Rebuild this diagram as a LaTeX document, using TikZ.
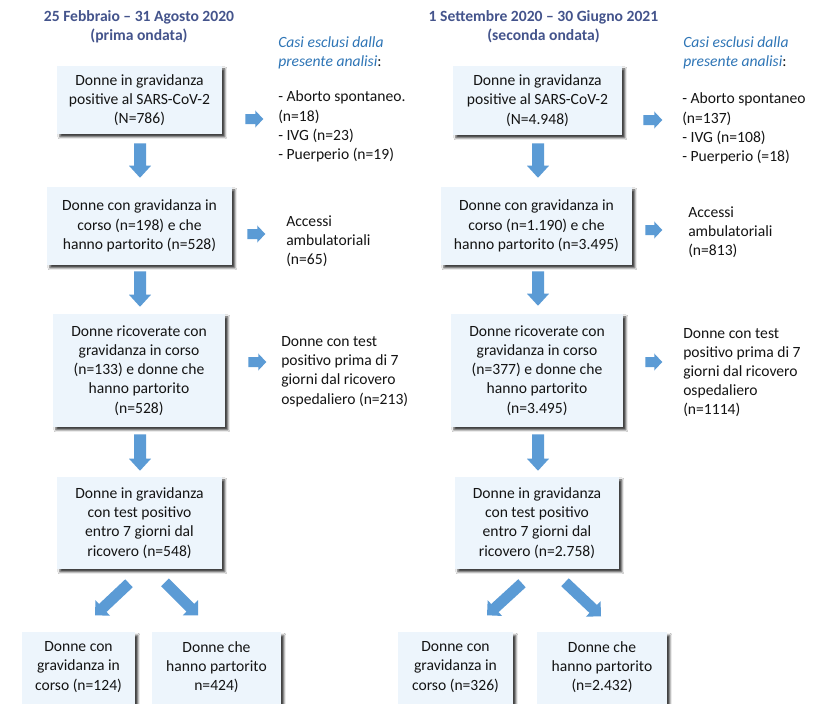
\documentclass[tikz,border=0pt]{standalone}
\usepackage{fontspec}
\setmainfont{Carlito}
\usetikzlibrary{calc,shadows.blur}
\definecolor{boxfill}{HTML}{EDF5FC}
\definecolor{arrowblue}{HTML}{5B9BD5}
\definecolor{headblue}{HTML}{44548C}
\definecolor{italblue}{HTML}{2E75B6}
\definecolor{txtcol}{HTML}{141414}
\newcommand{\bodyfont}{\fontsize{11.7}{14.4}\selectfont}
% block arrow: #1 tail, #2 tip, #3 shaft half width, #4 head half width, #5 head length
\newcommand{\blockarrow}[5]{%
  \coordinate (ba-h) at ($(#2)!#5!(#1)$);
  \fill[arrowblue] ($(#1)!#3!90:(#2)$) -- ($(ba-h)!#3!90:(#2)$) -- ($(ba-h)!#4!90:(#2)$) -- (#2)
    -- ($(ba-h)!#4!-90:(#2)$) -- ($(ba-h)!#3!-90:(#2)$) -- ($(#1)!#3!-90:(#2)$) -- cycle;}
\newcommand{\myDownArrow}[2]{\blockarrow{#1}{#2}{4.5pt}{8.25pt}{9pt}}
\newcommand{\mySideArrow}[2]{\blockarrow{#1}{#2}{3.75pt}{6.4pt}{6pt}}
\newcommand{\myDiagArrow}[2]{\blockarrow{#1}{#2}{4.1pt}{8pt}{8pt}}
\tikzset{
  box/.style={fill=boxfill, inner sep=0pt, align=center, font=\bodyfont, text=txtcol,
    blur shadow={shadow xshift=2.2pt, shadow yshift=-2.2pt, shadow blur radius=1.5pt, shadow opacity=75}},
  boxtext/.style={inner sep=0pt, align=center, font=\bodyfont, text=txtcol},
  side/.style={inner sep=0pt, align=left, anchor=west, font=\bodyfont, text=txtcol},
  head/.style={inner sep=0pt, align=center, font=\bodyfont\bfseries, text=headblue},
}
\begin{document}
\begin{tikzpicture}[x=0.75pt, y=-0.75pt]
\fill[white] (0,0) rectangle (815,704);
\useasboundingbox (0,0) rectangle (815,704);

% ---------- headers ----------
\node[head] (hL) at (139,27) {25 Febbraio -- 31 Agosto 2020\\(prima ondata)};
\node[head] (hR) at (543.5,27) {1 Settembre 2020 -- 30 Giugno 2021\\(seconda ondata)};

% ---------- left column boxes ----------
\node[box, minimum width=123.75pt, minimum height=51pt] (L1) at (139.5,100)
  {Donne in gravidanza\\positive al SARS-CoV-2\\(N=786)};
\node[box, minimum width=138.75pt, minimum height=58.5pt] (L2) at (139.5,226)
  {Donne con gravidanza in\\corso (n=198) e che\\hanno partorito (n=528)};
\node[box, minimum width=129pt, minimum height=84.75pt] (L3) at (139,370.5)
  {Donne ricoverate con\\gravidanza in corso\\(n=133) e donne che\\hanno partorito\\(n=528)};
\node[box, minimum width=123.75pt, minimum height=69pt] (L4) at (139.5,523)
  {Donne in gravidanza\\con test positivo\\entro 7 giorni dal\\ricovero (n=548)};
\node[box, minimum width=84.75pt, minimum height=60pt, anchor=north] (L5a) at (78.5,632) {};
\node[boxtext] (L5at) at (78.5,667) {Donne con\\gravidanza in\\corso (n=124)};
\node[box, minimum width=96.75pt, minimum height=60pt, anchor=north] (L5b) at (216.5,632) {};
\node[boxtext] (L5bt) at (216.5,667) {Donne che\\hanno partorito\\n=424)};

% ---------- right column boxes ----------
\node[box, minimum width=126.75pt, minimum height=51.75pt] (R1) at (537.5,100.5)
  {Donne in gravidanza\\positive al SARS-CoV-2\\(N=4.948)};
\node[box, minimum width=143.25pt, minimum height=58.5pt] (R2) at (536.5,226)
  {Donne con gravidanza in\\corso (n=1.190) e che\\hanno partorito (n=3.495)};
\node[box, minimum width=129pt, minimum height=84.75pt] (R3) at (537,370.5)
  {Donne ricoverate con\\gravidanza in corso\\(n=377) e donne che\\hanno partorito\\(n=3.495)};
\node[box, minimum width=123pt, minimum height=69pt] (R4) at (537,523)
  {Donne in gravidanza\\con test positivo\\entro 7 giorni dal\\ricovero (n=2.758)};
\node[box, minimum width=86.25pt, minimum height=60pt, anchor=north] (R5a) at (455.5,632) {};
\node[boxtext] (R5at) at (455.5,667) {Donne con\\gravidanza in\\corso (n=326)};
\node[box, minimum width=97.5pt, minimum height=60pt, anchor=north] (R5b) at (602,632) {};
\node[boxtext] (R5bt) at (602,667) {Donne che\\hanno partorito\\(n=2.432)};

% ---------- side texts ----------
\node[side] (LcasiT) at (278,52.5)
  {\textcolor{italblue}{\textit{Casi esclusi dalla}}\\\textcolor{italblue}{\textit{presente analisi}}:};
\node[side] (Lcasi) at (278,126.5) {- Aborto spontaneo.\\(n=18)\\- IVG (n=23)\\- Puerperio (n=19)};
\node[side] (Lacc) at (286,241) {Accessi\\ambulatoriali\\(n=65)};
\node[side] (Ltest) at (281,371.5) {Donne con test\\positivo prima di 7\\giorni dal ricovero\\ospedaliero (n=213)};

\node[side] (RcasiT) at (683,52.5)
  {\textcolor{italblue}{\textit{Casi esclusi dalla}}\\\textcolor{italblue}{\textit{presente analisi}}:};
\node[side] (Rcasi) at (682,128.5) {- Aborto spontaneo\\(n=137)\\- IVG (n=108)\\- Puerperio (=18)};
\node[side] (Racc) at (688,232.5) {Accessi\\ambulatoriali\\(n=813)};
\node[side] (Rtest) at (683,372.5) {Donne con test\\positivo prima di 7\\giorni dal ricovero\\ospedaliero\\(n=1114)};

% ---------- down arrows ----------
\coordinate (dL1s) at ($(L1.south)+(0.5,9)$);  \coordinate (dL1e) at ($(L2.north)+(0.5,-9)$);
\coordinate (dL2s) at ($(L2.south)+(0.5,6)$);  \coordinate (dL2e) at ($(L3.north)+(1,-7)$);
\coordinate (dL3s) at ($(L3.south)+(1,7)$);    \coordinate (dL3e) at ($(L4.north)+(0.5,-6)$);
\myDownArrow{dL1s}{dL1e}
\myDownArrow{dL2s}{dL2e}
\myDownArrow{dL3s}{dL3e}
\coordinate (dR1s) at ($(R1.south)+(0.5,8)$);  \coordinate (dR1e) at ($(R2.north)+(1.5,-9)$);
\coordinate (dR2s) at ($(R2.south)+(1.5,6)$);  \coordinate (dR2e) at ($(R3.north)+(1,-8)$);
\coordinate (dR3s) at ($(R3.south)+(1,7)$);    \coordinate (dR3e) at ($(R4.north)+(1,-6)$);
\myDownArrow{dR1s}{dR1e}
\myDownArrow{dR2s}{dR2e}
\myDownArrow{dR3s}{dR3e}

% ---------- side arrows ----------
\coordinate (sL1s) at ($(L1.east)+(23,19)$);   \coordinate (sL1e) at ($(L1.east)+(41,19)$);
\coordinate (sL2s) at ($(L2.east)+(15,8)$);    \coordinate (sL2e) at ($(L2.east)+(33,8)$);
\coordinate (sL3s) at ($(L3.east)+(23,-8.5)$); \coordinate (sL3e) at ($(L3.east)+(41,-8.5)$);
\mySideArrow{sL1s}{sL1e}
\mySideArrow{sL2s}{sL2e}
\mySideArrow{sL3s}{sL3e}
\coordinate (sR1s) at ($(R1.east)+(21,19.5)$); \coordinate (sR1e) at ($(R1.east)+(40,19.5)$);
\coordinate (sR2s) at ($(R2.east)+(13,4)$);    \coordinate (sR2e) at ($(R2.east)+(30,4)$);
\coordinate (sR3s) at ($(R3.east)+(22,-8.5)$); \coordinate (sR3e) at ($(R3.east)+(39,-8.5)$);
\mySideArrow{sR1s}{sR1e}
\mySideArrow{sR2s}{sR2e}
\mySideArrow{sR3s}{sR3e}

% ---------- diagonal arrows ----------
\coordinate (gL1s) at ($(L4.south)+(-10.5,14)$); \coordinate (gL1e) at ($(L4.south)+(-44.5,46)$);
\coordinate (gL2s) at ($(L4.south)+(25.5,13)$);  \coordinate (gL2e) at ($(L4.south)+(58.5,46)$);
\myDiagArrow{gL1s}{gL1e}
\myDiagArrow{gL2s}{gL2e}
\coordinate (gR1s) at ($(R4.south)+(-15,14)$);   \coordinate (gR1e) at ($(R4.south)+(-50,46)$);
\coordinate (gR2s) at ($(R4.south)+(28,13)$);    \coordinate (gR2e) at ($(R4.south)+(64,47)$);
\myDiagArrow{gR1s}{gR1e}
\myDiagArrow{gR2s}{gR2e}
\end{tikzpicture}
\end{document}
